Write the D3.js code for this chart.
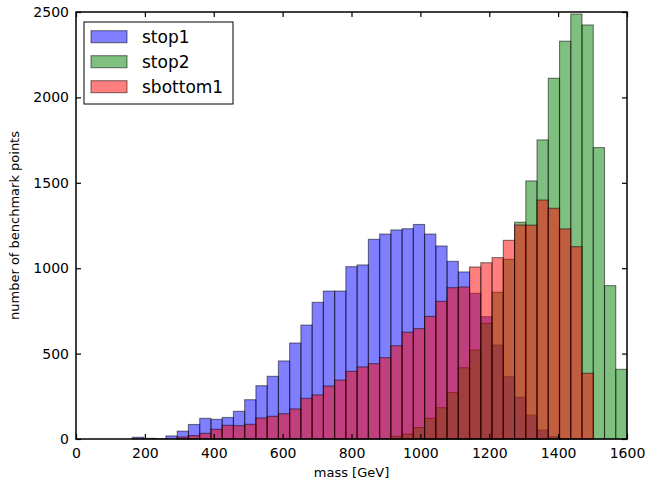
<!DOCTYPE html>
<html>
<head>
<meta charset="utf-8">
<script src="https://cdn.jsdelivr.net/npm/d3@7"></script>
<style>
  body { margin: 0; background: #fff; }
  text { font-family: "DejaVu Sans", sans-serif; fill: #000; }
</style>
</head>
<body>
<div id="chart"></div>
<script>
// histogram: 49 bins between 0 and 1600 GeV
const binCount = 49;
const massMin = 0, massMax = 1600;

const seriesNames = ["stop1", "stop2", "sbottom1"];
const seriesColors = ["#0000ff", "#008000", "#ff0000"];

// counts per bin
const stop1 = [0, 0, 0, 0, 0, 10, 4, 2, 18, 46,
  85, 121, 115, 126, 162, 230, 312, 367, 457, 562,
  667, 800, 866, 866, 1009, 1019, 1169, 1200, 1224, 1231,
  1256, 1200, 1130, 1040, 978, 853, 716, 550, 365, 245,
  140, 53, 14, 2, 0, 0, 0, 0, 0];
const stop2 = [0, 0, 0, 0, 0, 0, 0, 0, 0, 0,
  0, 0, 0, 0, 0, 0, 0, 0, 0, 0,
  0, 0, 0, 0, 0, 0, 0, 0, 15, 28,
  67, 121, 183, 272, 417, 521, 677, 859, 1052, 1269,
  1511, 1751, 2112, 2329, 2488, 2424, 1706, 898, 408];
const sbottom1 = [0, 0, 0, 0, 0, 0, 0, 0, 0, 12,
  20, 33, 57, 80, 78, 86, 123, 133, 148, 176,
  238, 258, 310, 345, 396, 422, 441, 476, 546, 625,
  646, 718, 806, 886, 890, 1007, 1032, 1062, 1163, 1253,
  1252, 1399, 1351, 1230, 1126, 385, 0, 0, 0];

const xTicks = [0, 200, 400, 600, 800, 1000, 1200, 1400, 1600];
const yTicks = [0, 500, 1000, 1500, 2000, 2500];

let margin = {top: 12, right: 18, bottom: 46, left: 76},
    width = 645 - margin.left - margin.right,
    height = 485 - margin.top - margin.bottom;

let svg = d3.select("#chart")
    .append("svg")
    .attr("width", 645)
    .attr("height", 485)
    .append("g")
    .attr("transform", "translate(" + margin.left + "," + margin.top + ")");

let x = d3.scaleLinear().domain([massMin, massMax]).range([0, width]);
let y = d3.scaleLinear().domain([0, 2500]).range([height, 0]);

let binWidth = (massMax - massMin) / binCount;
let counts = [stop1, stop2, sbottom1];

// bars, one group per series, drawn in order
counts.forEach((vals, s) => {
    let bins = vals.map((v, i) => ({x0: massMin + i * binWidth, x1: massMin + (i + 1) * binWidth, v: v}));
    svg.append("g")
        .selectAll("rect")
        .data(bins)
        .enter().append("rect")
        .attr("x", d => x(d.x0))
        .attr("y", d => y(d.v))
        .attr("width", d => x(d.x1) - x(d.x0))
        .attr("height", d => y(0) - y(d.v))
        .attr("fill", seriesColors[s])
        .attr("fill-opacity", 0.5)
        .attr("stroke", "#000")
        .attr("stroke-opacity", 0.5)
        .attr("stroke-width", 1.1);
});

// frame
svg.append("rect")
    .attr("width", width).attr("height", height)
    .attr("fill", "none").attr("stroke", "#000").attr("stroke-width", 1.5);

// ticks pointing inward on all four sides
let xAxis = svg.append("g").attr("transform", "translate(0," + height + ")")
    .call(d3.axisBottom(x).tickValues(xTicks).tickSize(-5).tickPadding(9).tickFormat(d3.format("d")));
svg.append("g")
    .call(d3.axisTop(x).tickValues(xTicks).tickSize(-5).tickFormat(""));
let yAxis = svg.append("g")
    .call(d3.axisLeft(y).tickValues(yTicks).tickSize(-5).tickPadding(7).tickFormat(d3.format("d")));
svg.append("g").attr("transform", "translate(" + width + ",0)")
    .call(d3.axisRight(y).tickValues(yTicks).tickSize(-5).tickFormat(""));

svg.selectAll(".domain").remove();
svg.selectAll(".tick line").attr("stroke", "#000").attr("stroke-width", 1.2);
svg.selectAll(".tick text").style("font-size", "14px").attr("font-family", "DejaVu Sans");

// axis labels
svg.append("text")
    .attr("x", width / 2).attr("y", height + 38)
    .attr("text-anchor", "middle")
    .style("font-size", "13px")
    .text("mass [GeV]");
svg.append("text")
    .attr("transform", "translate(" + (-57) + "," + (height / 2) + ") rotate(-90)")
    .attr("text-anchor", "middle")
    .style("font-size", "13px")
    .text("number of benchmark points");

// legend
let legend = svg.append("g").attr("transform", "translate(8,10)");
legend.append("rect")
    .attr("width", 149).attr("height", 82)
    .attr("fill", "#fff").attr("stroke", "#000").attr("stroke-width", 1);
seriesNames.forEach((name, i) => {
    let row = legend.append("g").attr("transform", "translate(0," + (14.7 + i * 25) + ")");
    row.append("rect")
        .attr("x", 7).attr("y", -6).attr("width", 36).attr("height", 12)
        .attr("fill", seriesColors[i]).attr("fill-opacity", 0.5)
        .attr("stroke", "#000").attr("stroke-opacity", 0.5).attr("stroke-width", 1.1);
    row.append("text")
        .attr("x", 58).attr("y", 6)
        .style("font-size", "17px")
        .text(name);
});
</script>
</body>
</html>
